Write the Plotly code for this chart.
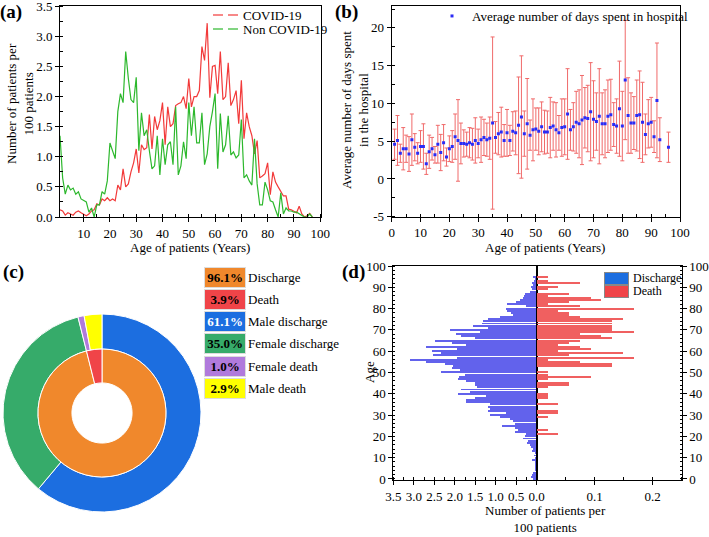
import plotly.graph_objects as go

W, H = 709, 537
FONT = "Liberation Serif"
INK = "black"


def px(x):
    return x / W


def py(y):
    return 1 - y / H


# ---------------------------------------------------------------- (a) data
ages_a = list(range(1, 98))
covid = [0.12, 0.10, 0.03, 0.07, 0.05, 0.03, 0.08, 0.10, 0.07, 0.05,
         0.02, 0.05, 0.10, 0.12, 0.22, 0.20, 0.30, 0.27, 0.32, 0.27,
         0.30, 0.27, 0.53, 0.45, 0.80, 0.50, 0.55, 0.75, 0.90, 1.13,
         0.73, 1.20, 1.12, 1.15, 1.70, 1.13, 1.67, 1.45, 1.60, 1.90,
         1.20, 1.83, 1.50, 1.55, 1.85, 1.88, 1.90, 2.00, 1.80, 2.30,
         1.83, 2.00, 2.00, 2.10, 2.83, 2.60, 3.22, 1.98, 2.50, 2.52,
         2.05, 2.75, 1.95, 2.00, 2.56, 1.85, 1.95, 2.10, 1.55, 2.27,
         1.30, 1.73, 1.50, 1.35, 1.05, 1.27, 0.65, 0.68, 0.72, 0.90,
         0.37, 0.75, 0.58, 0.50, 0.42, 0.35, 0.35, 0.13, 0.12, 0.10,
         0.07, 0.18, 0.05, 0.00, 0.02, 0.06, 0.00]
non_covid = [1.35, 0.65, 0.38, 0.53, 0.45, 0.48, 0.38, 0.42, 0.30, 0.27,
             0.25, 0.08, 0.15, 0.00, 0.20, 0.20, 0.42, 0.38, 0.60, 1.23,
             1.10, 0.97, 1.75, 2.05, 1.90, 2.75, 2.30, 1.95, 1.90, 2.32,
             1.10, 1.73, 1.35, 1.45, 1.10, 0.80, 0.85, 1.35, 0.70, 1.30,
             0.87, 1.20, 1.25, 0.87, 1.83, 0.70, 0.85, 1.25, 0.97, 1.90,
             1.35, 1.83, 1.23, 1.23, 1.73, 0.87, 1.05, 1.50, 1.75, 2.05,
             0.80, 1.72, 1.08, 1.20, 1.68, 1.03, 1.08, 0.98, 1.03, 1.62,
             0.65, 0.70, 0.60, 0.53, 1.30, 0.55, 0.20, 0.20, 0.58, 0.45,
             0.27, 0.25, 0.12, 0.00, 0.40, 0.05, 0.15, 0.10, 0.10, 0.08,
             0.08, 0.05, 0.03, 0.00, 0.00, 0.05, 0.00]

# ---------------------------------------------------------------- (b) data
ages_b = list(range(1, 94)) + [96]
mean_days = [4.6, 5.1, 3.4, 4.0, 4.0, 3.3, 5.2, 4.2, 3.4, 4.3,
             4.3, 2.0, 3.6, 4.0, 3.2, 4.6, 3.5, 4.8, 2.9, 4.0,
             4.3, 5.6, 5.1, 4.7, 4.7, 4.6, 4.8, 4.6, 5.1, 4.7,
             5.2, 5.5, 5.2, 5.4, 7.4, 5.5, 6.0, 6.2, 5.1, 6.1,
             5.1, 6.3, 6.1, 7.1, 8.2, 6.0, 7.3, 5.8, 6.5, 6.6,
             6.3, 6.9, 6.2, 6.2, 6.8, 7.0, 6.5, 6.1, 6.8, 6.9,
             8.6, 6.5, 6.9, 7.5, 7.3, 7.8, 8.1, 8.0, 8.9, 7.9,
             7.6, 8.3, 7.3, 7.3, 8.3, 8.5, 7.2, 7.0, 9.3, 7.0,
             13.1, 8.4, 7.4, 7.4, 8.4, 8.5, 7.5, 5.9, 7.3, 7.5,
             5.6, 10.4, 5.2, 4.2]
sd_days = [2.0, 3.3, 1.2, 2.8, 1.8, 2.3, 3.4, 1.8, 1.4, 2.1,
           3.0, 1.4, 2.2, 1.5, 1.1, 2.5, 2.4, 2.4, 1.2, 1.7,
           2.1, 3.0, 5.4, 2.7, 1.8, 1.6, 2.0, 2.1, 3.0, 1.9,
           3.0, 2.4, 2.2, 2.8, 11.4, 2.1, 2.8, 3.3, 2.1, 3.1,
           2.0, 2.6, 2.9, 6.4, 8.1, 3.0, 6.0, 2.0, 4.1, 2.8,
           3.1, 3.3, 2.9, 2.8, 4.0, 3.2, 3.6, 2.3, 3.8, 3.7,
           6.0, 2.7, 3.2, 4.1, 4.5, 5.9, 4.0, 4.4, 6.5, 5.1,
           3.8, 6.3, 4.1, 4.5, 4.8, 4.7, 2.9, 3.6, 6.3, 4.6,
           7.9, 5.0, 4.0, 3.5, 4.7, 5.8, 5.3, 2.7, 3.2, 3.3,
           2.1, 7.6, 2.9, 2.0]

# ---------------------------------------------------------------- (c) data
inner_labels = ["Discharge", "Death"]
inner_values = [96.1, 3.9]
inner_colors = ["#F0882C", "#F04448"]
outer_labels = ["Male discharge", "Female discharge", "Female death", "Male death"]
outer_values = [61.1, 35.0, 1.0, 2.9]
outer_colors = ["#1C6EE0", "#36AB6A", "#B07ADC", "#FFFF00"]
legend_c = [("96.1%", "Discharge", "#F0882C", "black"),
            ("3.9%", "Death", "#F04448", "black"),
            ("61.1%", "Male discharge", "#1C6EE0", "white"),
            ("35.0%", "Female discharge", "#36AB6A", "black"),
            ("1.0%", "Female death", "#B07ADC", "black"),
            ("2.9%", "Male death", "#FFFF00", "black")]

# ---------------------------------------------------------------- (d) data
ages_d = list(range(0, 96))
discharge = [0.08, 0.12, 0.10, 0.08, 0.04, 0.02, 0.02, 0.04, 0.04, 0.10,
             0.04, 0.07, 0.04, 0.10, 0.08, 0.12, 0.16, 0.24, 0.20, 0.33,
             0.28, 0.26, 0.53, 0.45, 0.53, 0.83, 0.53, 0.57, 0.65, 0.90,
             1.14, 0.73, 1.18, 1.14, 1.18, 1.14, 1.71, 1.71, 1.50, 1.22,
             1.91, 1.63, 1.83, 1.46, 1.50, 1.50, 1.71, 1.91, 1.89, 1.75,
             2.33, 1.87, 2.05, 2.03, 2.24, 2.69, 3.08, 1.95, 2.52, 2.34,
             2.54, 1.95, 2.70, 1.71, 2.05, 2.48, 1.50, 1.85, 1.97, 1.38,
             2.10, 1.18, 1.55, 1.34, 1.30, 1.18, 0.90, 0.57, 0.61, 0.71,
             0.73, 0.25, 0.72, 0.49, 0.41, 0.33, 0.31, 0.28, 0.16, 0.10,
             0.12, 0.08, 0.10, 0.07, 0.03, 0.08]
death = [0, 0, 0, 0, 0, 0, 0, 0, 0, 0,
         0, 0, 0, 0, 0, 0, 0, 0, 0, 0,
         0, 0.037, 0, 0.019, 0, 0, 0, 0, 0, 0.019,
         0, 0.037, 0.037, 0, 0, 0.037, 0, 0, 0.019, 0.019,
         0.019, 0, 0, 0.019, 0.056, 0.056, 0, 0.019, 0.093, 0.019,
         0.019, 0, 0, 0.130, 0.130, 0.074, 0.019, 0.167, 0.056, 0.148,
         0.037, 0.093, 0.074, 0.037, 0.056, 0.074, 0.130, 0.111, 0.074, 0.167,
         0.130, 0.130, 0.130, 0.130, 0.130, 0.148, 0.074, 0.056, 0.056, 0.037,
         0.167, 0.074, 0.019, 0.056, 0.111, 0.093, 0.019, 0.056, 0, 0.019,
         0.037, 0, 0.074, 0.019, 0, 0.019]

# ==========================================================================
fig = go.Figure()

COL_COVID, COL_NON = "#F23A3A", "#2DB82D"

# (a) lines
fig.add_trace(go.Scatter(x=ages_a, y=covid, mode="lines", name="COVID-19",
                         line=dict(color=COL_COVID, width=1.2), xaxis="x", yaxis="y",
                         showlegend=False))
fig.add_trace(go.Scatter(x=ages_a, y=non_covid, mode="lines", name="Non COVID-19",
                         line=dict(color=COL_NON, width=1.2), xaxis="x", yaxis="y",
                         showlegend=False))

# (b) mean +/- sd
fig.add_trace(go.Scatter(x=ages_b, y=mean_days, mode="markers",
                         name="Average number of days spent in hospital",
                         marker=dict(symbol="square", size=3, color="#2B2BF5"),
                         error_y=dict(type="data", array=sd_days, visible=True,
                                      color="#F06A6A", thickness=1, width=2),
                         xaxis="x2", yaxis="y2", legend="legend2"))

# (c) double donut
fig.add_trace(go.Pie(labels=outer_labels, values=outer_values, sort=False,
                     direction="clockwise", rotation=0, hole=0.646,
                     marker=dict(colors=outer_colors, line=dict(color="white", width=1)),
                     textinfo="none", showlegend=False,
                     domain=dict(x=[px(3), px(201)], y=[py(512), py(314)])))
fig.add_trace(go.Pie(labels=inner_labels, values=inner_values, sort=False,
                     direction="clockwise", rotation=0, hole=0.47,
                     marker=dict(colors=inner_colors, line=dict(color="white", width=1)),
                     textinfo="none", showlegend=False,
                     domain=dict(x=[px(38), px(166)], y=[py(477), py(349)])))

# (d) pyramid
fig.add_trace(go.Bar(y=ages_d, x=discharge, orientation="h", width=0.45,
                     marker=dict(color="#6262EC", line=dict(width=0)),
                     xaxis="x3", yaxis="y3", showlegend=False))
fig.add_trace(go.Bar(y=ages_d, x=death, orientation="h", width=0.45,
                     marker=dict(color="#F06060", line=dict(width=0)),
                     xaxis="x4", yaxis="y4", showlegend=False))

axis_common = dict(showline=True, linecolor=INK, linewidth=1, mirror=True,
                   ticks="outside", ticklen=4, tickcolor=INK, showgrid=False,
                   zeroline=False, automargin=False, ticklabeloverflow="allow",
                   tickfont=dict(family=FONT, size=13, color=INK))

fig.update_layout(
    width=W, height=H, autosize=False,
    margin=dict(l=0, r=0, t=0, b=0),
    paper_bgcolor="white", plot_bgcolor="white",
    font=dict(family=FONT, size=13, color=INK),
    bargap=0,
    xaxis=dict(axis_common, domain=[px(60), px(321)], range=[1, 100.3], anchor="y",
               tickvals=list(range(10, 101, 10)),
               minor=dict(dtick=5, tick0=0, ticks="inside", ticklen=3, tickcolor=INK)),
    yaxis=dict(axis_common, domain=[py(217), py(6)], range=[0, 3.505], anchor="x",
               tickvals=[0, 0.5, 1, 1.5, 2, 2.5, 3, 3.5], tickformat=".1f",
               minor=dict(dtick=0.25, ticks="inside", ticklen=3, tickcolor=INK)),
    xaxis2=dict(axis_common, domain=[px(391.7), px(680)], range=[0, 100], anchor="y2",
                dtick=10,
                minor=dict(dtick=5, ticks="inside", ticklen=3, tickcolor=INK)),
    yaxis2=dict(axis_common, domain=[py(216.7), py(6)], range=[-5, 22.9], anchor="x2",
                tickvals=[-5, 0, 5, 10, 15, 20], ticktext=["-5", "0", "5", "10", "15", "20"],
                minor=dict(dtick=2.5, tick0=0, ticks="inside", ticklen=3, tickcolor=INK)),
    xaxis3=dict(axis_common, domain=[px(393.3), px(536.7)], range=[3.5, 0], anchor="y3",
                tickvals=[0, 0.5, 1, 1.5, 2, 2.5, 3, 3.5], tickformat=".1f",
                minor=dict(dtick=0.25, ticks="inside", ticklen=3, tickcolor=INK)),
    xaxis4=dict(axis_common, domain=[px(536.7), px(681.7)], range=[0, 0.25], anchor="y4",
                tickvals=[0.1, 0.2], tickformat=".1f",
                minor=dict(dtick=0.05, tick0=0, ticks="inside", ticklen=3, tickcolor=INK)),
    yaxis3=dict(axis_common, domain=[py(480), py(266)], range=[-0.5, 100], anchor="x3",
                dtick=10, side="left",
                minor=dict(dtick=2, ticks="inside", ticklen=2, tickcolor=INK)),
    yaxis4=dict(axis_common, domain=[py(480), py(266)], range=[-0.5, 100], anchor="x4",
                dtick=10, side="right",
                minor=dict(dtick=2, ticks="inside", ticklen=2, tickcolor=INK)),
    legend2=dict(x=px(432), y=py(1), xanchor="left", yanchor="top", bgcolor="rgba(0,0,0,0)",
                 font=dict(family=FONT, size=13), itemwidth=30),
)

ann = []
shapes = []


def label(text, x, y, size=13, angle=0, bold=False, xanchor="center", **kw):
    t = f"<b>{text}</b>" if bold else text
    ann.append(dict(text=t, x=px(x), y=py(y), xref="paper", yref="paper",
                    xanchor=xanchor, yanchor="middle", showarrow=False, textangle=angle,
                    font=dict(family=FONT, size=size, color=INK), **kw))


# panel letters
label("(a)", 11, 12, size=19, bold=True)
label("(b)", 346, 12, size=19, bold=True)
label("(c)", 13, 272, size=19, bold=True)
label("(d)", 353, 272, size=19, bold=True)

# axis titles
label("Number of patients per<br>100 patients", 20, 104, angle=-90)
label("Age of patients (Years)", 190, 247)
label("Average number of days spent<br>in the hospital", 355, 110, angle=-90)
label("Age of patients (Years)", 545, 247)
label("Age", 369, 372, angle=-90)
label("Number of patients per<br>100 patients", 545, 519)

# (a) legend: Origin-style broken line sample
for i, (name, col) in enumerate([("COVID-19", COL_COVID), ("Non COVID-19", COL_NON)]):
    yc = 15 + i * 14
    for x0, x1 in [(213, 223), (228, 238)]:
        shapes.append(dict(type="line", xref="paper", yref="paper",
                           x0=px(x0), x1=px(x1), y0=py(yc), y1=py(yc),
                           line=dict(color=col, width=1.2)))
    label(name, 241, yc, xanchor="left")

# (c) legend: coloured boxes with percentages
for i, (pct, name, col, txtcol) in enumerate(legend_c):
    yc = 277 + i * 22.3
    ann.append(dict(text=f"<b>{pct}</b>", x=px(224.5), y=py(yc), xref="paper", yref="paper",
                    xanchor="center", yanchor="middle",
                    showarrow=False, width=38, height=17, bgcolor=col, borderpad=1,
                    bordercolor="#DDDDDD", borderwidth=1,
                    font=dict(family=FONT, size=13, color=txtcol)))
    label(name, 246, yc, xanchor="left")

# (d) legend
for i, (name, col) in enumerate([("Discharge", "#1C6EE0"), ("Death", "#F04448")]):
    yc = 278 + i * 13.3
    ann.append(dict(text="", x=px(616.5), y=py(yc), xref="paper", yref="paper",
                    xanchor="center", yanchor="middle",
                    showarrow=False, width=21, height=9, bgcolor=col,
                    bordercolor="#888888", borderwidth=1))
    label(name, 631, yc, xanchor="left", size=12)

fig.update_layout(annotations=ann, shapes=shapes)
fig.write_html("out.html", config={"displayModeBar": False},
               post_script="document.body.style.margin='0';")
